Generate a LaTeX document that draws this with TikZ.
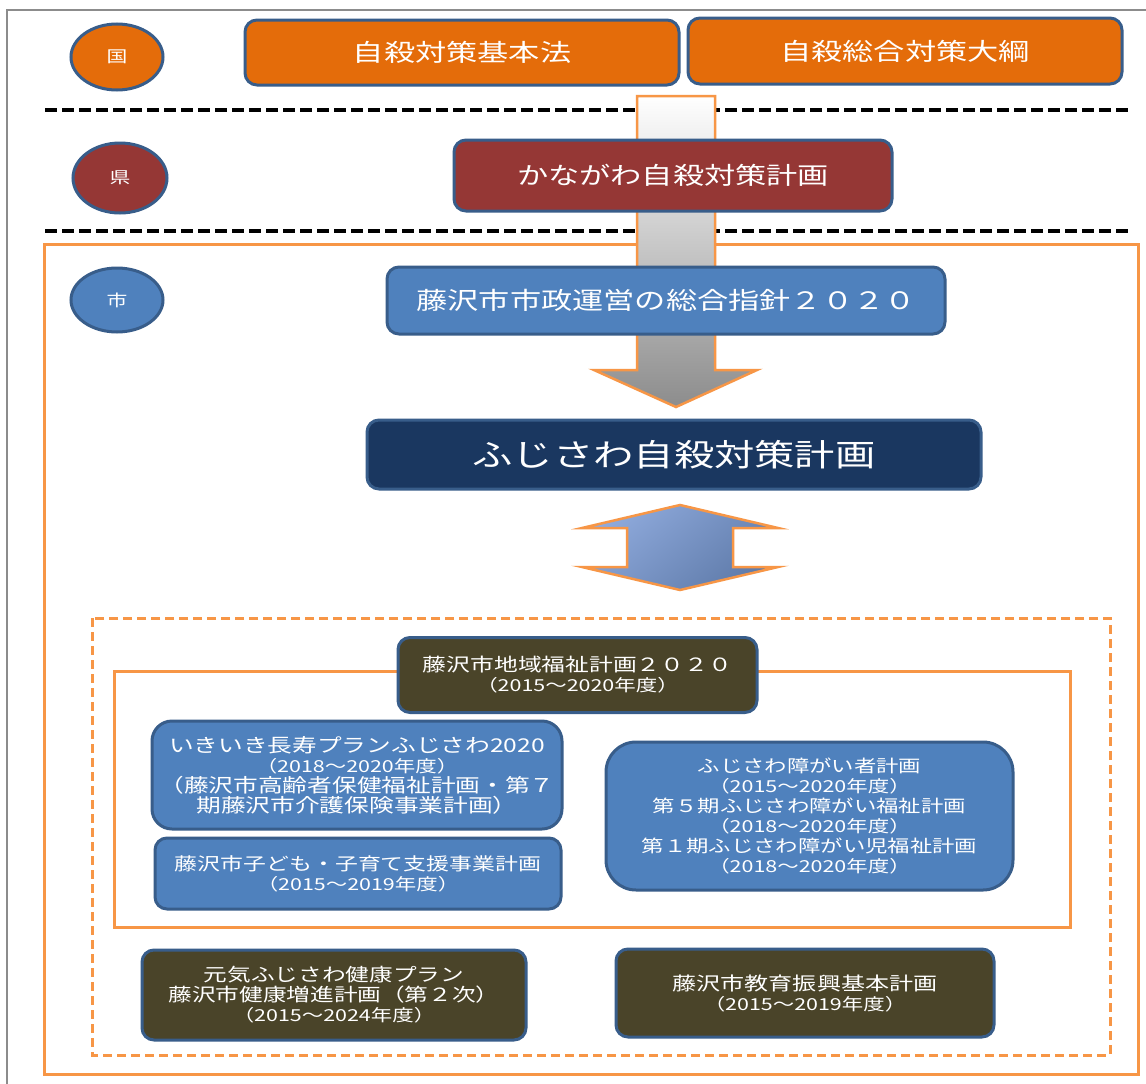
\documentclass[tikz,border=0pt]{standalone}
\usepackage{fontspec}
\setmainfont{Noto Sans CJK JP}[FakeStretch=1.3]
\usetikzlibrary{shapes.geometric}
\definecolor{korange}{HTML}{E46C0A}
\definecolor{kborder}{HTML}{385D8A}
\definecolor{kred}{HTML}{953735}
\definecolor{kblue}{HTML}{4F81BD}
\definecolor{knavy}{HTML}{1A3760}
\definecolor{kolive}{HTML}{4A4429}
\definecolor{lorange}{HTML}{F79646}
\definecolor{kgray}{HTML}{8C8C8C}
\definecolor{dlight}{HTML}{8FAADC}
\definecolor{ddark}{HTML}{5F7BAA}
\tikzset{
  lvl/.style={ellipse, draw=kborder, line width=3pt, text=white, inner sep=0pt, font=\fontsize{16}{18}\selectfont},
  plan/.style={draw=kborder, line width=3pt, rounded corners=12pt, text=white, inner sep=0pt, align=center},
  bigtxt/.style={font=\fontsize{24}{28}\selectfont},
  fs/.style={font=\fontsize{#1}{20}\selectfont},
  sepline/.style={line width=3.2pt, dash pattern=on 12pt off 5pt},
}
\newcommand{\yr}[1]{{\fontsize{16.5}{19}\selectfont #1}}
\begin{document}
\begin{tikzpicture}[x=1pt,y=-1pt]
\useasboundingbox (0,0) rectangle (1146,1084);
\fill[white] (0,0) rectangle (1146,1084);
% frame
\draw[kgray, line width=1.2pt] (7,1084) -- (7,10) -- (1146,10);
% separators
\draw[sepline] (45,110) -- (1132,110);
\draw[sepline] (45,231) -- (1132,231);
% city frames
\draw[lorange, line width=3pt] (44,244) rectangle (1138,1074);
\draw[lorange, line width=3pt, dash pattern=on 9pt off 5pt] (92,618) rectangle (1110,1055);
\draw[lorange, line width=3pt] (114,671) rectangle (1070,927);
% big down arrow
\path[top color=white, bottom color=black!45, draw=lorange, line width=2.5pt, line join=miter]
  (637,96) -- (715,96) -- (715,370) -- (757,370) -- (676,407) -- (594,370) -- (637,370) -- cycle;
% double arrow
\path[top color=dlight, bottom color=ddark, shading angle=40, draw=lorange, line width=2.5pt]
  (680,505) -- (778,528) -- (733,528) -- (733,567) -- (778,567) -- (680,590) -- (582,567) -- (627,567) -- (627,528) -- (582,528) -- cycle;
% level markers
\node[lvl, fill=korange, minimum width=92pt, minimum height=66pt] (kuni) at (117,57) {国};
\node[lvl, fill=kred, minimum width=94pt, minimum height=70pt] (ken) at (120,178) {県};
\node[lvl, fill=kblue, minimum width=92pt, minimum height=64pt] (shi) at (117,300) {市};
% national
\node[plan, bigtxt, fill=korange, minimum width=434pt, minimum height=65pt] (law) at (462,52.5) {自殺対策基本法};
\node[plan, bigtxt, fill=korange, minimum width=434pt, minimum height=66pt] (taiko) at (905,51) {自殺総合対策大綱};
% prefecture
\node[plan, bigtxt, fill=kred, minimum width=438pt, minimum height=71pt] (kanagawa) at (673,175.5) {かながわ自殺対策計画};
% city
\node[plan, bigtxt, fill=kblue, minimum width=558pt, minimum height=67pt] (shisei) at (666,300.5) {藤沢市市政運営の総合指針２０２０};
\node[plan, font=\fontsize{31}{36}\selectfont, fill=knavy, minimum width=614pt, minimum height=69pt] (fujisawa) at (674,454.5) {ふじさわ自殺対策計画};
% related plans
\node[plan, fs=18.3, fill=kolive, minimum width=359pt, minimum height=75pt] (chiiki) at (577.5,675) {藤沢市地域福祉計画２０２０\\\yr{（2015～2020年度）}};
\node[plan, fs=19, fill=kblue, rounded corners=20pt, minimum width=410pt, minimum height=108pt] (ikiiki) at (357,775) {いきいき長寿プランふじさわ2020\\\yr{（2018～2020年度）}\\（藤沢市高齢者保健福祉計画・第７\\期藤沢市介護保険事業計画）};
\node[plan, fs=17.6, fill=kblue, minimum width=406pt, minimum height=71pt] (kodomo) at (358,873.5) {藤沢市子ども・子育て支援事業計画\\\yr{（2015～2019年度）}};
\node[plan, fs=17.2, fill=kblue, rounded corners=30pt, minimum width=407pt, minimum height=148pt] (shogai) at (809.5,816) {ふじさわ障がい者計画\\\yr{（2015～2020年度）}\\第５期ふじさわ障がい福祉計画\\\yr{（2018～2020年度）}\\第１期ふじさわ障がい児福祉計画\\\yr{（2018～2020年度）}};
\node[plan, fs=18.2, fill=kolive, minimum width=384pt, minimum height=90pt] (genki) at (334,995) {元気ふじさわ健康プラン\\藤沢市健康増進計画（第２次）\\\yr{（2015～2024年度）}};
\node[plan, fs=18.5, fill=kolive, minimum width=378pt, minimum height=88pt] (kyoiku) at (805,993) {藤沢市教育振興基本計画\\\yr{（2015～2019年度）}};
\end{tikzpicture}
\end{document}
